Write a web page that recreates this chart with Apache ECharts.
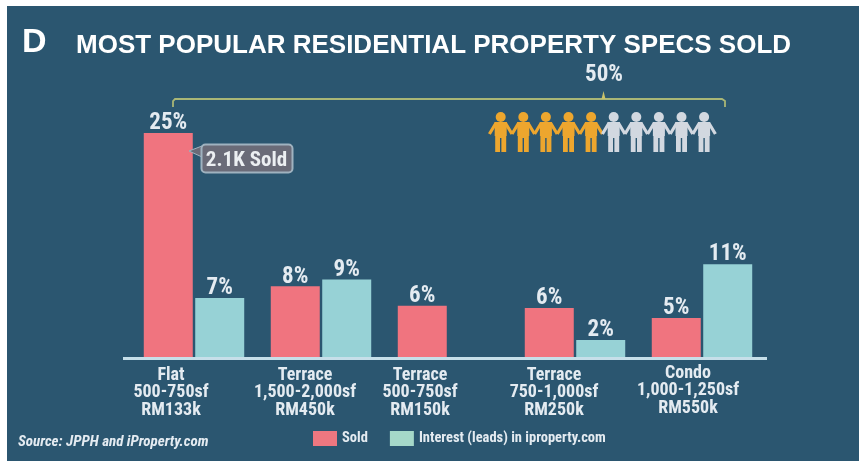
<!DOCTYPE html>
<html><head><meta charset="utf-8">
<style>html,body{margin:0;padding:0;background:#fff}#c{width:859px;height:461px}</style>
<script src="https://cdn.jsdelivr.net/npm/echarts@6/dist/echarts.min.js"></script>
</head><body><div id="c"></div>
<script>
const categories = ['Flat\n500-750sf\nRM133k','Terrace\n1,500-2,000sf\nRM450k','Terrace\n500-750sf\nRM150k','Terrace\n750-1,000sf\nRM250k','Condo\n1,000-1,250sf\nRM550k'];
const soldValues = [25, 8, 5.85, 5.6, 4.5];
const interestValues = [6.7, 8.75, null, 2.05, 10.45];
const soldLabels = ['25%','8%','6%','6%','5%'];
const interestLabels = ['7%','9%','','2%','11%'];
const categoryLabelShift = [46, 32, 56, 42, 28];
const categoryLabelRaise = [0, 0, 0, 0, 2];
const peopleTotal = 10;
const peopleHighlighted = 5;

const NARROW = '"Roboto Condensed","Liberation Sans",sans-serif';
const SANS = '"Liberation Sans",Arial,sans-serif';
const BG = '#2b5670', SOLD = '#f0747f', INT = '#97d2d6', TXT = '#e4ebf1', BRACKET = '#a9b676';

const chart = echarts.init(document.getElementById('c'), null, {renderer:'canvas'});

const people = [];
const px0 = 500.7, pdx = 22.6;
for (let i = 0; i < peopleTotal; i++) {
  const x = px0 + i * pdx, col = i < peopleHighlighted ? '#eda62e' : '#d2d8e0';
  people.push(
    {type:'circle', shape:{cx:x, cy:117, r:5}, style:{fill:col}, silent:true},
    {type:'polygon', shape:{points:[[x-6,122],[x+6,122],[x+6,136],[x+5.5,136],[x+5.5,152],[x+0.7,152],[x+0.7,138],[x-0.7,138],[x-0.7,152],[x-5.5,152],[x-5.5,136],[x-6,136]]}, style:{fill:col}, silent:true},
    {type:'polyline', shape:{points:[[x-11.3,134],[x-5,123.5],[x+5,123.5],[x+11.3,134]]}, style:{stroke:col, lineWidth:3.2, fill:null}, silent:true}
  );
}

chart.setOption({
  animation:false,
  backgroundColor:'#fff',
  title:[
    {text:'D', left:17, top:21, textStyle:{fontFamily:SANS, fontWeight:'bold', fontSize:34, color:'#fff'}},
    {text:'MOST POPULAR RESIDENTIAL PROPERTY SPECS SOLD', left:71, top:28, textStyle:{fontFamily:SANS, fontWeight:'bold', fontSize:26, color:'#fff'}}
  ],
  legend:{
    left:313, top:431, padding:0, itemWidth:24, itemHeight:15, itemGap:22,
    icon:'rect',
    textStyle:{fontFamily:NARROW, fontWeight:'bold', fontSize:14.5, color:TXT},
    data:[{name:'Sold', itemStyle:{color:'#ee7780'}},{name:'Interest (leads) in iproperty.com', itemStyle:{color:'#a5d8c9'}}]
  },
  grid:{left:130.5, width:635, top:100, bottom:461-358.5},
  xAxis:{
    type:'category',
    data:categories.map((c,i)=>({value:c, textStyle:{padding:[-categoryLabelRaise[i],categoryLabelShift[i],0,0]}})),
    axisLine:{show:false}, axisTick:{show:false},
    axisLabel:{interval:0, margin:8, fontFamily:NARROW, fontWeight:'bold', fontSize:18, lineHeight:17.5, color:TXT}
  },
  yAxis:{type:'value', min:0, max:28.65, show:false, splitLine:{show:false}},
  series:[
    {name:'Sold', type:'bar', z:3, barWidth:49, barGap:'5%', data:soldValues, itemStyle:{color:SOLD},
     label:{show:true, position:'top', distance:1, offset:[0,3], fontFamily:NARROW, fontWeight:'bold', fontSize:23, color:TXT, formatter:p=>soldLabels[p.dataIndex]}},
    {name:'Interest (leads) in iproperty.com', type:'bar', z:3, barWidth:49, data:interestValues, itemStyle:{color:INT},
     label:{show:true, position:'top', distance:1, offset:[0,3], fontFamily:NARROW, fontWeight:'bold', fontSize:23, color:TXT, formatter:p=>interestLabels[p.dataIndex]}}
  ],
  graphic:[
    {type:'rect', z:-10, silent:true, shape:{x:7,y:6,width:852,height:455}, style:{fill:BG}},
    {type:'rect', z:5, silent:true, shape:{x:123,y:357,width:644,height:3}, style:{fill:'#c6dfe9'}},
    {type:'polyline', silent:true, shape:{points:[[173,107],[173,101],[175,99],[722,99],[725,101],[725,107]]}, style:{stroke:BRACKET, lineWidth:1.8, fill:null}},
    {type:'polygon', silent:true, shape:{points:[[601.5,99],[603.5,91],[605.5,99]]}, style:{fill:'#c9c36a'}},
    {type:'text', silent:true, x:604, y:75, style:{text:'50%', fill:TXT, fontFamily:NARROW, fontWeight:'bold', fontSize:23, align:'center', verticalAlign:'middle'}},
    {type:'polygon', silent:true, z:6, shape:{points:[[189,151],[202,146],[202,157]]}, style:{fill:'#6a6b78', stroke:'#9fb2bf', lineWidth:1}},
    {type:'rect', silent:true, z:6, shape:{x:201.5,y:144.5,width:91,height:28,r:4}, style:{fill:'#6a6b78', stroke:'#9fb2bf', lineWidth:2}},
    {type:'text', silent:true, z:7, x:246.5, y:161, style:{text:'2.1K Sold', fill:'#eceff2', fontFamily:NARROW, fontWeight:'bold', fontSize:21, align:'center', verticalAlign:'middle'}},
    {type:'text', silent:true, x:18, y:442, style:{text:'Source: JPPH and iProperty.com', fill:TXT, fontFamily:NARROW, fontWeight:'bold', fontStyle:'italic', fontSize:15, align:'left', verticalAlign:'middle'}},
    ...people
  ]
});
</script></body></html>
